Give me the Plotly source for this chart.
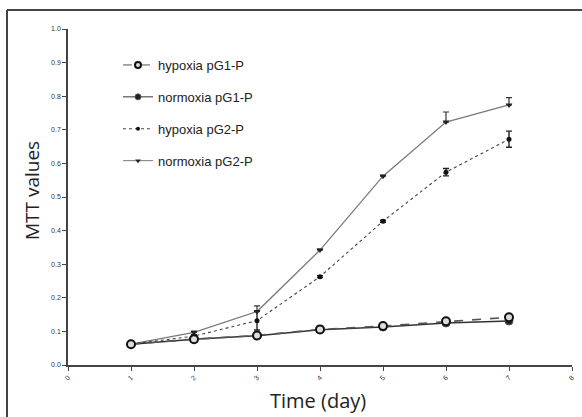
import plotly.graph_objects as go

days = [1, 2, 3, 4, 5, 6, 7]
hyp_g1 = [0.062, 0.077, 0.088, 0.106, 0.116, 0.130, 0.142]
nor_g1 = [0.062, 0.077, 0.087, 0.105, 0.113, 0.125, 0.131]
hyp_g2 = [0.062, 0.086, 0.132, 0.263, 0.428, 0.574, 0.672]
nor_g2 = [0.062, 0.097, 0.159, 0.342, 0.562, 0.723, 0.774]
hyp_g2_err = [0, 0.004, 0.028, 0.003, 0.003, 0.011, 0.024]
nor_g2_err = [0, 0.004, 0.017, 0.003, 0.003, 0.030, 0.022]
zeros = [0] * 7

x_ticks = [0, 1, 2, 3, 4, 5, 6, 7, 8]
y_ticks = [0.0, 0.1, 0.2, 0.3, 0.4, 0.5, 0.6, 0.7, 0.8, 0.9, 1.0]
y_labels = [f"{v:.1f}" for v in y_ticks]

W, H = 582, 417
L, R, T, B = 68, 10, 29, 52
pw, ph = W - L - R, H - T - B

styles = {
    "hypoxia pG1-P": dict(line=dict(color="#555", width=1.6, dash="dash"),
                          marker=dict(symbol="circle", size=8, color="#ddd", line=dict(color="#111", width=2))),
    "normoxia pG1-P": dict(line=dict(color="#333", width=1.5),
                           marker=dict(symbol="circle", size=8, color="#222", line=dict(color="#555", width=1))),
    "hypoxia pG2-P": dict(line=dict(color="#444", width=1.1, dash="dot"),
                          marker=dict(symbol="circle", size=5, color="#111")),
    "normoxia pG2-P": dict(line=dict(color="#7a7a7a", width=1.3),
                           marker=dict(symbol="triangle-down", size=6, color="#222")),
}

fig = go.Figure()
fig.add_trace(go.Scatter(
    x=days, y=nor_g2, name="normoxia pG2-P", mode="lines+markers",
    error_y=dict(type="data", symmetric=False, array=nor_g2_err, arrayminus=zeros,
                 color="#333", thickness=1.2, width=3),
    showlegend=False, **styles["normoxia pG2-P"]))
fig.add_trace(go.Scatter(
    x=days, y=hyp_g2, name="hypoxia pG2-P", mode="lines+markers",
    error_y=dict(type="data", array=hyp_g2_err, color="#222", thickness=1.4, width=3),
    showlegend=False, **styles["hypoxia pG2-P"]))
fig.add_trace(go.Scatter(
    x=days, y=nor_g1, name="normoxia pG1-P", mode="lines+markers",
    showlegend=False, **styles["normoxia pG1-P"]))
fig.add_trace(go.Scatter(
    x=days, y=hyp_g1, name="hypoxia pG1-P", mode="lines+markers",
    showlegend=False, **styles["hypoxia pG1-P"]))

# legend entries (smaller symbols like the original)
legend_marker_size = {"hypoxia pG1-P": 6, "normoxia pG1-P": 6, "hypoxia pG2-P": 4, "normoxia pG2-P": 5}
for i, name in enumerate(["hypoxia pG1-P", "normoxia pG1-P", "hypoxia pG2-P", "normoxia pG2-P"]):
    st = styles[name]
    mk = dict(st["marker"])
    mk["size"] = legend_marker_size[name]
    ln = dict(st["line"])
    ln["width"] = 1
    fig.add_trace(go.Scatter(x=[None], y=[None], name=name, mode="lines+markers",
                             line=ln, marker=mk, legendgroup=f"g{i}", legendrank=i + 1))

axis_common = dict(showline=True, linecolor="#444", linewidth=1.5, ticks="outside",
                   ticklen=4, tickcolor="#444", tickwidth=1.2, showgrid=False,
                   zeroline=False, tickfont=dict(family="Arial", size=7, color="#333"))

fig.update_xaxes(range=[0, 8], tickvals=x_ticks, ticktext=[str(v) for v in x_ticks],
                 tickangle=-45, **axis_common)
fig.update_yaxes(range=[0, 1.0], tickvals=y_ticks, ticktext=y_labels, **axis_common)

frame_left = (7 - L) / pw
frame_top = (365 - 10) / ph
fig.update_layout(
    width=W, height=H, margin=dict(l=L, r=R, t=T, b=B, autoexpand=False),
    plot_bgcolor="white", paper_bgcolor="white",
    showlegend=True,
    legend=dict(x=(118 - L) / pw, y=(365 - 50) / ph, xanchor="left", yanchor="top",
                bgcolor="rgba(0,0,0,0)", tracegroupgap=12, itemwidth=30,
                font=dict(family="Arial", size=13, color="#222")),
    annotations=[
        dict(text="MTT values", textangle=-90, xref="paper", yref="paper",
             x=(32 - L) / pw, y=(365 - 191) / ph, xanchor="center", yanchor="middle",
             showarrow=False, font=dict(family="Open Sans", size=19, color="#222")),
        dict(text="Time (day)", xref="paper", yref="paper",
             x=(318 - L) / pw, y=(365 - 400) / ph, xanchor="center", yanchor="middle",
             showarrow=False, font=dict(family="Open Sans", size=20, color="#222")),
    ],
    shapes=[
        dict(type="line", xref="paper", yref="paper",
             x0=frame_left, x1=frame_left, y0=(365 - 470) / ph, y1=frame_top,
             line=dict(color="#444", width=2), layer="below"),
        dict(type="line", xref="paper", yref="paper",
             x0=frame_left, x1=(640 - L) / pw, y0=frame_top, y1=frame_top,
             line=dict(color="#444", width=2), layer="below"),
    ],
)

fig.write_html("out.html", config={"displayModeBar": False},
               post_script="document.body.style.margin='0';")
